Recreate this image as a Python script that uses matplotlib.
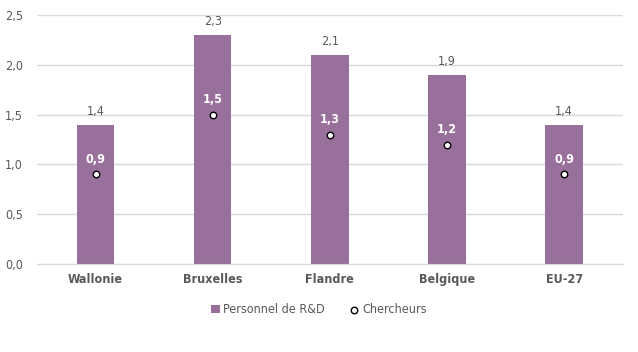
import numpy as np
import matplotlib
matplotlib.use("Agg")
import matplotlib.pyplot as plt

regions = ["Wallonie", "Bruxelles", "Flandre", "Belgique", "EU-27"]
personnel = [1.4, 2.3, 2.1, 1.9, 1.4]
chercheurs = [0.9, 1.5, 1.3, 1.2, 0.9]

plt.rcParams['font.family'] = ['DejaVu Sans']
plt.rcParams['font.stretch'] = 'condensed'

bar_color = '#98709B'
text_color = '#595959'

fig = plt.figure(figsize=(6.38, 3.52), dpi=100)
ax = fig.add_axes([0.058, 0.25, 0.918, 0.707])

x = np.arange(len(regions))
bars = ax.bar(x, personnel, width=0.32, color=bar_color, zorder=2, label='Personnel de R&D')
dots = ax.scatter(x, chercheurs, s=22, facecolor='white', edgecolor='black', linewidth=1.0,
                  zorder=3, label='Chercheurs')

def fmt(v):
    return f"{v:.1f}".replace('.', ',')

for xi, p, c in zip(x, personnel, chercheurs):
    ax.annotate(fmt(p), (xi, p), xytext=(0, 5), textcoords='offset points',
                ha='center', va='bottom', fontsize=9, color=text_color)
    ax.annotate(fmt(c), (xi, c), xytext=(0, 6), textcoords='offset points',
                ha='center', va='bottom', fontsize=9, color='white', fontweight='bold')

ax.set_xlim(-0.5, len(regions) - 0.5)
ax.set_ylim(0, 2.5)
yt = np.arange(0, 2.51, 0.5)
ax.set_yticks(yt)
ax.set_yticklabels([fmt(v) for v in yt], fontsize=9, color=text_color)
ax.set_xticks(x)
ax.set_xticklabels(regions, fontsize=9, color=text_color, fontweight='bold')
for lbl in ax.get_xticklabels():
    lbl.set_verticalalignment('baseline')
ax.tick_params(length=0, axis='y', pad=10)
ax.tick_params(length=0, axis='x', pad=14)
ax.grid(axis='y', color='#D9D9D9', linewidth=1, zorder=0)
for s in ['top', 'right', 'left']:
    ax.spines[s].set_visible(False)
ax.spines['bottom'].set_color('#D9D9D9')

leg = fig.legend([bars, dots], ['Personnel de R&D', 'Chercheurs'], loc='center',
                 bbox_to_anchor=(0.5, 0.12), ncol=2, frameon=False,
                 fontsize=9, handlelength=0.7, handletextpad=0.3, columnspacing=2.0)
for t in leg.get_texts():
    t.set_color(text_color)

fig.savefig('out.png', dpi=100)
